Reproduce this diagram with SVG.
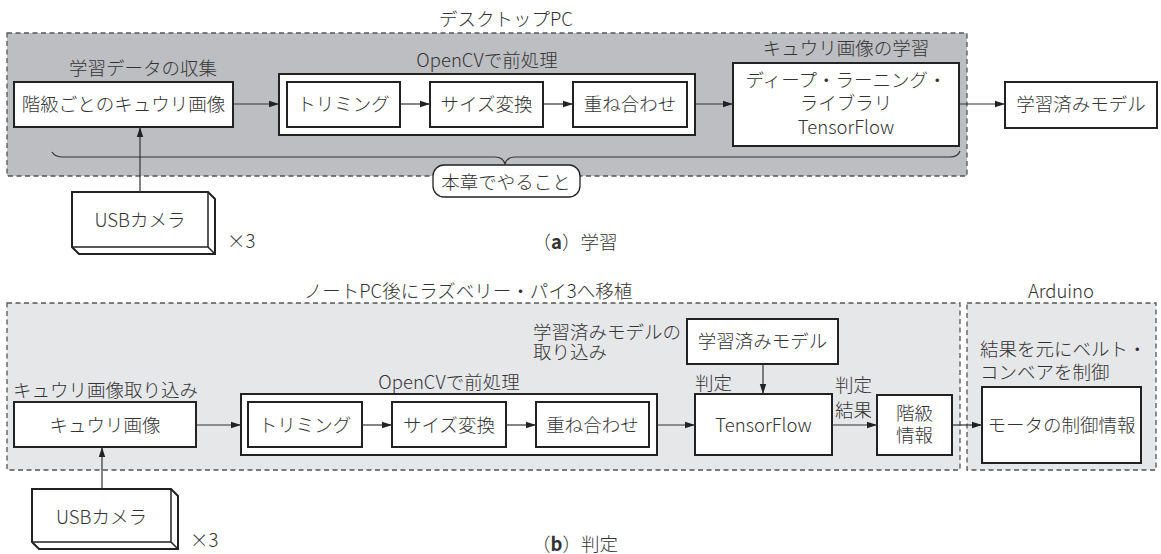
<svg xmlns="http://www.w3.org/2000/svg" width="1161" height="554" viewBox="0 0 1161 554">
<defs>
<style>
text{font-family:"Noto Sans CJK JP","Noto Sans",sans-serif;font-size:18.5px;font-weight:300;fill:#333}
.m{text-anchor:middle}
.box{fill:#fff;stroke:#222;stroke-width:2}
.grp{stroke:#555;stroke-width:1.3;stroke-dasharray:5 3.5}
.ln{fill:none;stroke:#333;stroke-width:1.2}
</style>
<marker id="ah" viewBox="0 0 10 8" refX="10" refY="4" markerWidth="10" markerHeight="8" markerUnits="userSpaceOnUse" orient="auto">
<path d="M0,0.8 L10,4 L0,7.2 Z" fill="#222"/>
</marker>
</defs>

<!-- (a) learning -->
<g id="desktop-group">
<rect class="grp" x="7" y="33" width="960" height="143" fill="#bdbec1"/>
<text class="m" x="506" y="26">デスクトップPC</text>
</g>

<g id="collect">
<text class="m" x="143" y="75">学習データの収集</text>
<rect class="box" x="14" y="82" width="219" height="45"/>
<text class="m" x="123.5" y="111">階級ごとのキュウリ画像</text>
</g>

<g id="opencv-a">
<text class="m" x="487" y="67">OpenCVで前処理</text>
<rect class="box" x="279" y="74" width="416" height="61"/>
</g>
<g id="trim-a"><rect class="box" x="287" y="82" width="113" height="45"/><text class="m" x="343.5" y="111">トリミング</text></g>
<g id="resize-a"><rect class="box" x="430" y="82" width="113" height="45"/><text class="m" x="486.5" y="111">サイズ変換</text></g>
<g id="overlay-a"><rect class="box" x="573" y="82" width="114" height="45"/><text class="m" x="630" y="111">重ね合わせ</text></g>

<g id="dl">
<text class="m" x="846" y="55">キュウリ画像の学習</text>
<rect class="box" x="733" y="63" width="226" height="83"/>
<text class="m" x="846" y="87">ディープ・ラーニング・</text>
<text class="m" x="846" y="110">ライブラリ</text>
<text class="m" x="846" y="134">TensorFlow</text>
</g>

<g id="model-a">
<rect class="box" x="1005" y="82" width="152" height="46"/>
<text class="m" x="1081" y="111">学習済みモデル</text>
</g>

<g id="brace">
<path class="ln" d="M52,152 Q55,157 63,157 L495,157 Q503,157 505,164 Q507,157 515,157 L950,157 Q958,157 960,151"/>
<rect x="433" y="165" width="147" height="32" rx="11" fill="#fff" stroke="#222" stroke-width="1.3"/>
<text class="m" x="506" y="189">本章でやること</text>
</g>

<g id="camera-a">
<path d="M72,192 L208,192 L215,199 L215,254 L79,254 L72,247 Z" fill="#fff" stroke="#222" stroke-width="2"/>
<path d="M208,192 L208,247 L72,247 M208,247 L215,254" fill="none" stroke="#222" stroke-width="1.5"/>
<text class="m" x="140" y="227">USBカメラ</text>
<text x="227" y="248">×3</text>
</g>

<text class="m" x="575" y="249">（<tspan font-weight="bold">a</tspan>）学習</text>

<!-- (b) judgement -->
<g id="note-group">
<rect class="grp" x="7" y="303" width="953" height="167" fill="#e6e7e9"/>
<text class="m" x="468" y="298">ノートPC後にラズベリー・パイ3へ移植</text>
</g>
<g id="arduino-group">
<rect class="grp" x="967" y="303" width="189" height="167" fill="#e6e7e9"/>
<text class="m" x="1061" y="298">Arduino</text>
</g>

<g id="capture">
<text x="13" y="397">キュウリ画像取り込み</text>
<rect class="box" x="14" y="402" width="182" height="45"/>
<text class="m" x="105" y="432">キュウリ画像</text>
</g>

<g id="opencv-b">
<text class="m" x="449" y="389">OpenCVで前処理</text>
<rect class="box" x="241" y="394" width="416" height="61"/>
</g>
<g id="trim-b"><rect class="box" x="248" y="402" width="114" height="45"/><text class="m" x="305" y="432">トリミング</text></g>
<g id="resize-b"><rect class="box" x="392" y="402" width="114" height="45"/><text class="m" x="449" y="432">サイズ変換</text></g>
<g id="overlay-b"><rect class="box" x="536" y="402" width="113" height="45"/><text class="m" x="592.5" y="432">重ね合わせ</text></g>

<g id="model-b">
<text x="533" y="339">学習済みモデルの</text>
<text x="533" y="359">取り込み</text>
<rect class="box" x="687" y="319" width="151" height="45"/>
<text class="m" x="762.5" y="348">学習済みモデル</text>
</g>

<g id="tf">
<text x="695" y="390">判定</text>
<rect class="box" x="695" y="394" width="137" height="61"/>
<text class="m" x="763.5" y="432">TensorFlow</text>
</g>

<g id="class-info">
<text x="835" y="392">判定</text>
<text x="835" y="417">結果</text>
<rect class="box" x="877" y="395" width="75" height="60"/>
<text class="m" x="914.5" y="420">階級</text>
<text class="m" x="914.5" y="442">情報</text>
</g>

<g id="motor">
<text x="980" y="356">結果を元にベルト・</text>
<text x="980" y="379">コンベアを制御</text>
<rect class="box" x="982" y="387" width="159" height="76"/>
<text class="m" x="1061.5" y="432">モータの制御情報</text>
</g>

<g id="camera-b">
<path d="M32,489 L171,489 L178,496 L178,549 L39,549 L32,542 Z" fill="#fff" stroke="#222" stroke-width="2"/>
<path d="M171,489 L171,542 L32,542 M171,542 L178,549" fill="none" stroke="#222" stroke-width="1.5"/>
<text class="m" x="101.5" y="524">USBカメラ</text>
<text x="190" y="547">×3</text>
</g>

<text class="m" x="575" y="551">（<tspan font-weight="bold">b</tspan>）判定</text>

<g id="connectors" class="ln" marker-end="url(#ah)">
<line x1="233" y1="104" x2="279" y2="104"/>
<line x1="400" y1="104" x2="430" y2="104"/>
<line x1="543" y1="104" x2="573" y2="104"/>
<line x1="695" y1="104" x2="733" y2="104"/>
<line x1="959" y1="104" x2="1005" y2="104"/>
<line x1="140" y1="192" x2="140" y2="127"/>
<line x1="196" y1="425" x2="241" y2="425"/>
<line x1="362" y1="425" x2="392" y2="425"/>
<line x1="506" y1="425" x2="536" y2="425"/>
<line x1="657" y1="425" x2="695" y2="425"/>
<line x1="763" y1="364" x2="763" y2="394"/>
<line x1="832" y1="425" x2="877" y2="425"/>
<line x1="952" y1="425" x2="982" y2="425"/>
<line x1="102" y1="489" x2="102" y2="447"/>
</g>
</svg>
